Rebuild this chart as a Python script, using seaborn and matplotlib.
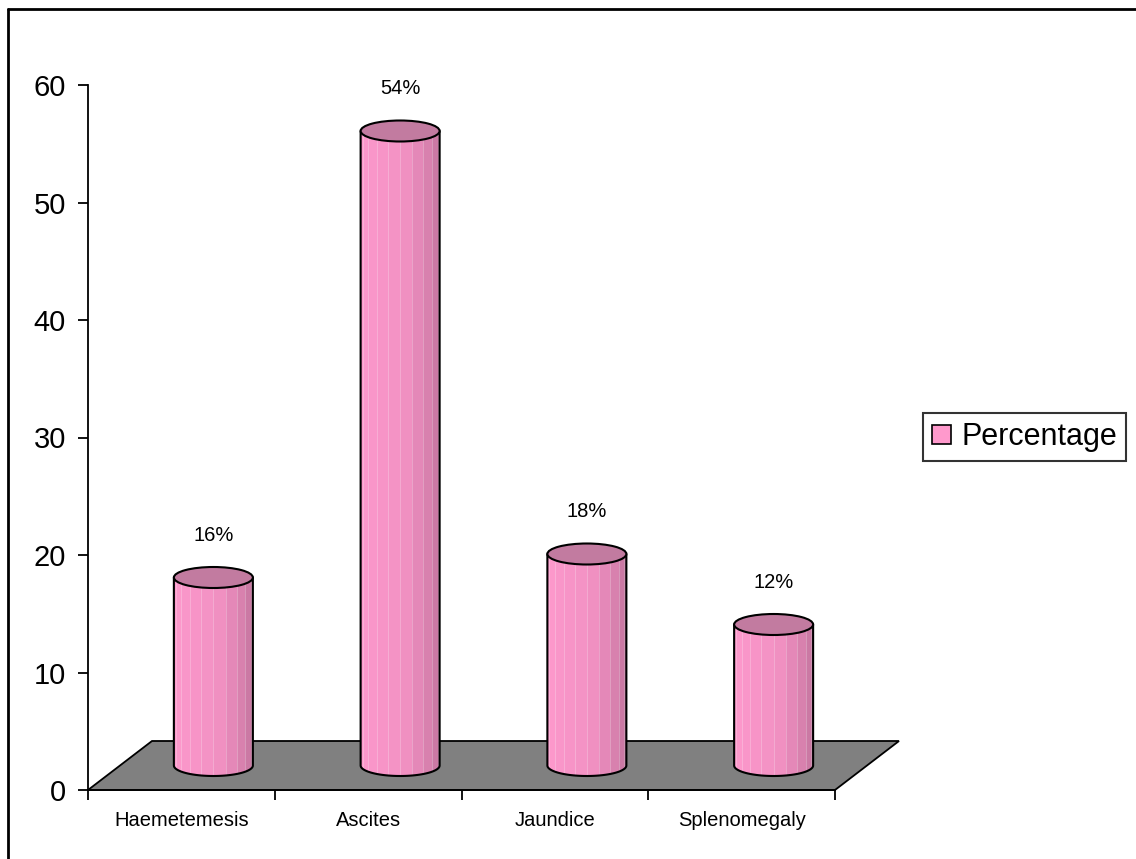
import numpy as np
import pandas as pd
import matplotlib
matplotlib.use("Agg")
import matplotlib.pyplot as plt
import seaborn as sns
from matplotlib.patches import Polygon, Ellipse, PathPatch, Patch
from matplotlib.path import Path
from matplotlib.lines import Line2D
from matplotlib.colors import LinearSegmentedColormap

# ---- data ----
categories = ["Haemetemesis", "Ascites", "Jaundice", "Splenomegaly"]
values = [16, 54, 18, 12]
value_labels = ["16%", "54%", "18%", "12%"]
series_name = "Percentage"
y_ticks = [0, 10, 20, 30, 40, 50, 60]

# ---- style ----
sns.set_style("white")
plt.rcParams["font.family"] = ["Liberation Sans", "DejaVu Sans"]
plt.rcParams["text.color"] = "black"
plt.rcParams["xtick.color"] = "black"
plt.rcParams["ytick.color"] = "black"
plt.rcParams["xtick.labelcolor"] = "black"
plt.rcParams["ytick.labelcolor"] = "black"

W, H = 1136, 859
fig = plt.figure(figsize=(W / 100, H / 100), dpi=100)
ax = fig.add_axes([88 / W, (H - 790) / H, 747 / W, 705 / H])

pink_light = "#FF9ACD"
pink_dark = "#B96E96"
top_color = "#C27BA0"

n = len(categories)
xmin, xmax = -0.5, n - 0.5
ymin, ymax = 0, 60
px_x = 747 / n          # pixels per category
px_y = 705 / (ymax - ymin)
DX = 64 / px_x          # full depth offset (category units)
DY = 49 / px_y          # full depth offset (value units)
dx, dy = DX / 2, DY / 2  # cylinders stand at mid depth
cyl_w = 79 / px_x
ell_h = 21 / px_y

df = pd.DataFrame({"Symptom": categories, series_name: values})
sns.barplot(data=df, x="Symptom", y=series_name, color=pink_light,
            width=cyl_w, edgecolor="none", ax=ax, zorder=3)
bars = list(ax.containers[0])

# floor
floor = Polygon([(xmin, 0), (xmin + DX, DY), (xmax + DX, DY), (xmax, 0)],
                closed=True, facecolor="#808080", edgecolor="black",
                lw=1.3, clip_on=False, zorder=1)
ax.add_patch(floor)

cmap = LinearSegmentedColormap.from_list("cyl", [pink_light, "#F291C3", pink_dark])
nf = 10
theta = np.linspace(np.pi, 0, nf + 1)

for p, v, lab in zip(bars, values, value_labels):
    x0 = p.get_x() + dx
    w = p.get_width()
    cx = x0 + w / 2
    r = w / 2
    p.set_x(x0)
    p.set_y(dy)
    p.set_height(v)
    top = v + dy
    bot = dy
    # clip path: body + lower half of base ellipse
    ang = np.linspace(np.pi, 2 * np.pi, 60)
    arc = np.column_stack([cx + r * np.cos(ang), bot + ell_h / 2 * np.sin(ang)])
    verts = np.vstack([[x0, top], arc, [x0 + w, top], [x0, top]])
    codes = [Path.MOVETO] + [Path.LINETO] * (len(verts) - 2) + [Path.CLOSEPOLY]
    cpath = Path(verts, codes)
    clip = PathPatch(cpath, transform=ax.transData, facecolor="none", edgecolor="none")
    ax.add_patch(clip)
    xb = cx + r * np.cos(theta)
    t = (np.arange(nf) + 0.5) / nf
    C = np.array([t ** 1.1])
    mesh = ax.pcolormesh(xb, [bot - ell_h, top], C, cmap=cmap, vmin=0, vmax=1,
                         shading="flat", zorder=4)
    mesh.set_clip_path(clip)
    vl = ax.vlines(xb[1:-1], bot - ell_h, top, colors="white", alpha=0.25,
                   lw=0.7, zorder=4.5)
    vl.set_clip_path(clip)
    # outline
    out = np.vstack([[x0, top], arc, [x0 + w, top]])
    ax.plot(out[:, 0], out[:, 1], color="black", lw=1.5, zorder=6,
            solid_joinstyle="round")
    ax.add_patch(Ellipse((cx, top), w, ell_h, facecolor=top_color,
                         edgecolor="black", lw=1.5, zorder=7))
    ax.annotate(lab, (cx, top + ell_h / 2), xytext=(0, 23), textcoords="offset points",
                ha="center", va="center", fontsize=14.5, color="black", zorder=8)

ax.set_xlim(xmin, xmax)
ax.set_ylim(ymin, ymax)
ax.set_yticks(y_ticks)
ax.set_xticks(range(n))
ax.set_xticklabels(categories, fontsize=14.5)
ax.set_xticks(np.arange(n + 1) - 0.5, minor=True)
ax.tick_params(axis="x", which="major", length=0, pad=15, bottom=True)
ax.tick_params(axis="x", which="minor", length=7, width=1.3, color="black",
               direction="out", bottom=True)
ax.tick_params(axis="y", length=7, width=1.3, color="black", direction="out",
               labelsize=21, pad=9, left=True)
ax.set_xlabel("")
ax.set_ylabel("")
for s in ["top", "right"]:
    ax.spines[s].set_visible(False)
for s in ["left", "bottom"]:
    ax.spines[s].set_color("black")
    ax.spines[s].set_linewidth(1.3)
ax.set_facecolor("none")
ax.grid(False)

# legend
handle = Patch(facecolor="#FF99CC", edgecolor="black", lw=1.2)
leg = fig.legend([handle], [series_name], loc="center left",
                 bbox_to_anchor=(923 / W, 1 - 437 / H), fontsize=22,
                 frameon=True, fancybox=False, borderpad=0.3,
                 handlelength=0.6, handleheight=0.6, handletextpad=0.35,
                 borderaxespad=0)
leg.get_frame().set_edgecolor("black")
leg.get_frame().set_linewidth(1.5)
for txt in leg.get_texts():
    txt.set_color("black")

# chart border (top and left visible)
fig.add_artist(Line2D([8 / W, 8 / W], [0, 1 - 9 / H], color="black", lw=2))
fig.add_artist(Line2D([8 / W, 1], [1 - 9 / H, 1 - 9 / H], color="black", lw=2))

fig.savefig("out.png", dpi=100)
